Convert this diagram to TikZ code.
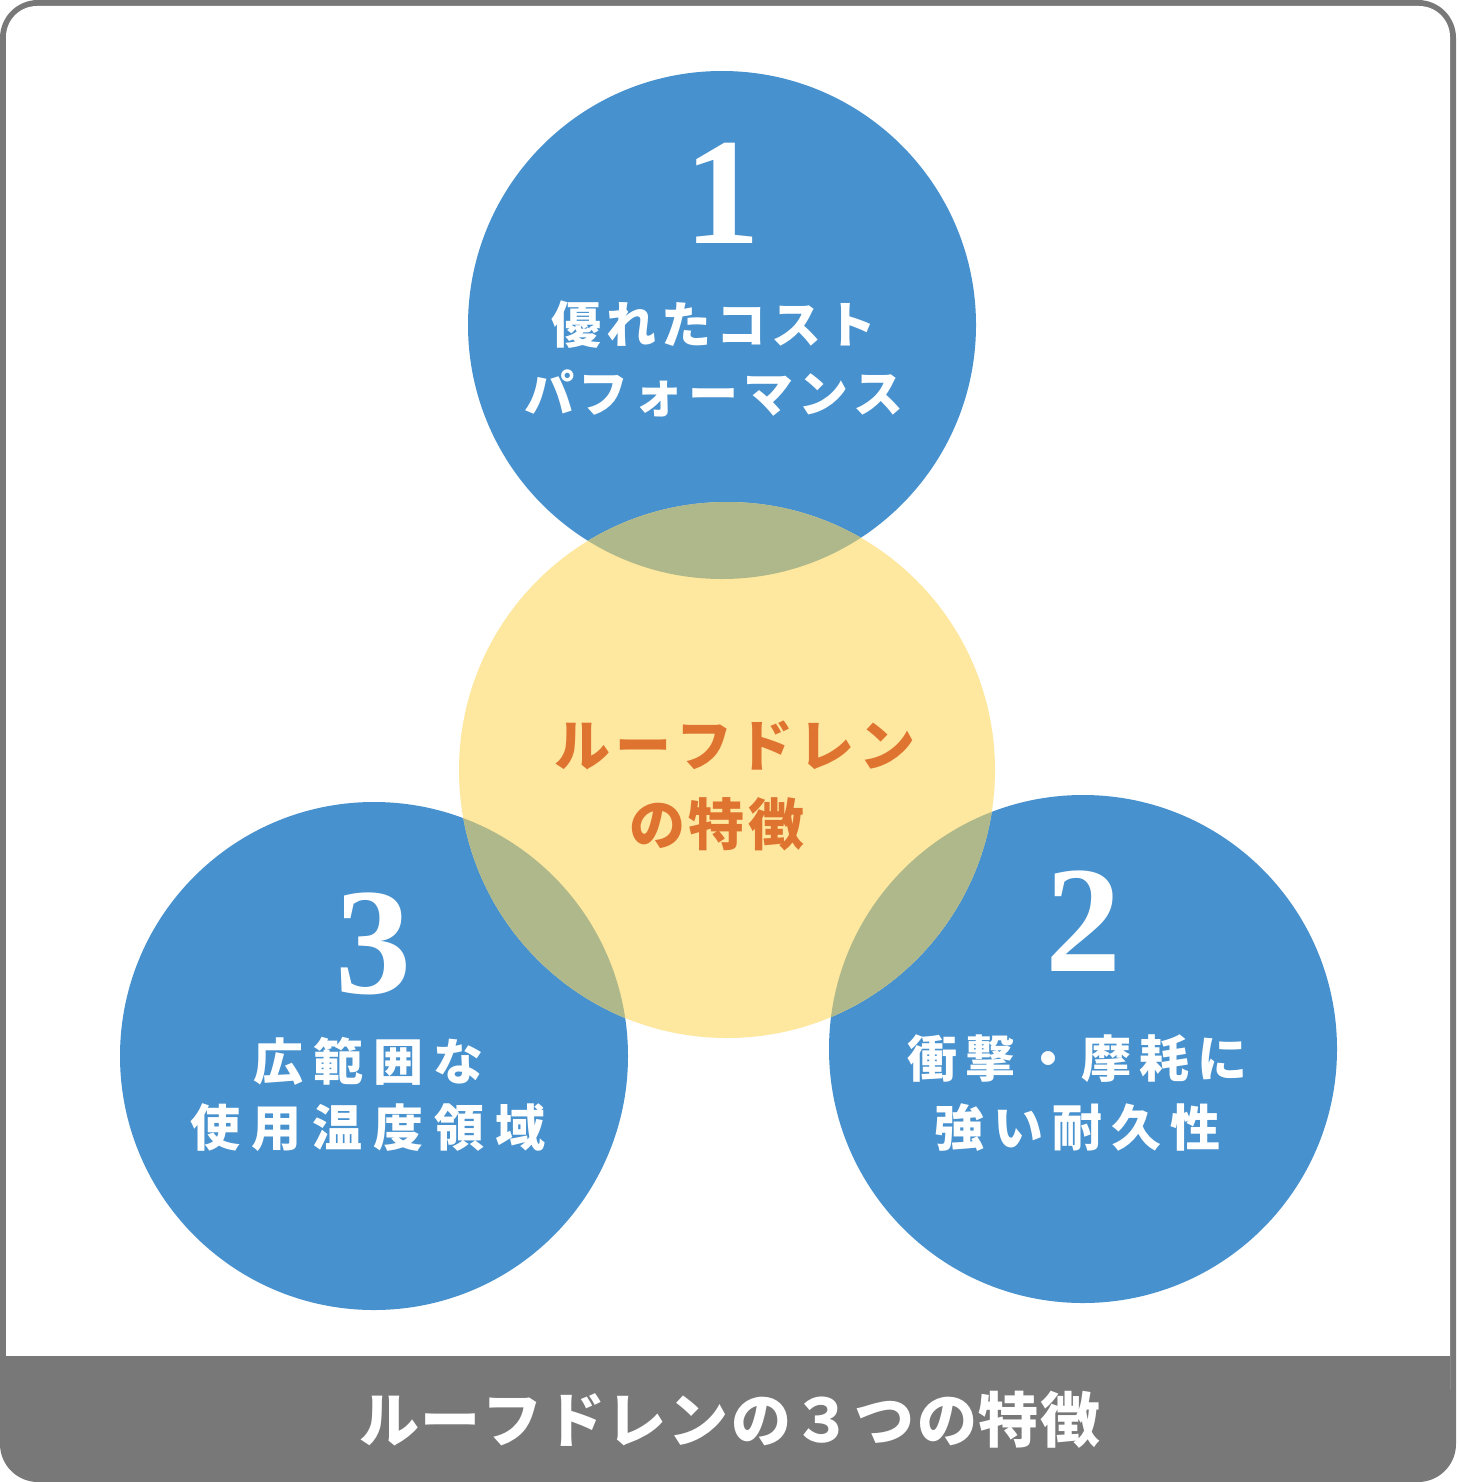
\documentclass[tikz,border=0pt]{standalone}
\usepackage{fontspec}
\newfontfamily\jp{Noto Sans CJK JP}
\newfontfamily\numf{Liberation Serif}
\definecolor{bluec}{HTML}{4691CE}
\definecolor{yellowc}{HTML}{FEE79E}
\definecolor{olivec}{HTML}{AEB88A}
\definecolor{orangec}{HTML}{DF7431}
\definecolor{grayc}{HTML}{787878}
\makeatletter
\newcommand\pitched[2]{\@tfor\pch@r:=#2\do{\makebox[#1]{\pch@r}}}
\makeatother
\tikzset{
  bluecirc/.style={fill=bluec},
  lbl/.style={inner sep=0pt, text=white, font=\jp\bfseries\fontsize{50}{50}\selectfont},
  ctr/.style={inner sep=0pt, text=orangec, font=\jp\bfseries\fontsize{56}{56}\selectfont},
  num/.style={inner sep=0pt, anchor=base, text=white, font=\numf\bfseries\fontsize{152}{152}\selectfont},
  ttl/.style={inner sep=0pt, text=white, font=\jp\bfseries\fontsize{60}{60}\selectfont}
}
\begin{document}
\begin{tikzpicture}[x=1pt,y=-1pt]
\useasboundingbox (0,0) rectangle (1457,1482);
% frame
\fill[grayc, rounded corners=38pt] (0,0) rectangle (1456,1482);
\fill[white, rounded corners=31pt] (6,6) rectangle (1450,1420);
\fill[grayc] (6,1356) rectangle (1450,1430);
% circles
\fill[bluecirc] (722,325) circle [radius=254pt];
\fill[bluecirc] (1083,1049) circle [radius=254pt];
\fill[bluecirc] (374,1056) circle [radius=254pt];
\fill[yellowc] (727,770) circle [radius=268pt];
\begin{scope}
  \clip (727,770) circle [radius=268pt];
  \fill[olivec] (722,325) circle [radius=254pt];
  \fill[olivec] (1083,1049) circle [radius=254pt];
  \fill[olivec] (374,1056) circle [radius=254pt];
\end{scope}
% numbers
\node[num] (n1) at (722,243) {1};
\node[num] (n2) at (1083,971) {2};
\node[num] (n3) at (373,993) {3};
% labels
\node[lbl] (t1a) at (714,325) {\pitched{55pt}{優れたコスト}};
\node[lbl] (t1b) at (714,393) {\pitched{55pt}{パフォーマンス}};
\node[ctr] (c1) at (735,746) {\pitched{61pt}{ルーフドレン}};
\node[ctr] (c2) at (717,824) {\pitched{60pt}{の特徴}};
\node[lbl] (t3a) at (368,1061) {\pitched{60pt}{広範囲な}};
\node[lbl] (t3b) at (368,1128) {\pitched{61pt}{使用温度領域}};
\node[lbl] (t2a) at (1077,1059) {\pitched{58pt}{衝撃・摩耗に}};
\node[lbl] (t2b) at (1077,1128) {\pitched{59pt}{強い耐久性}};
% title
\node[ttl] (title) at (730,1420) {\pitched{62pt}{ルーフドレンの３つの特徴}};
\end{tikzpicture}
\end{document}
